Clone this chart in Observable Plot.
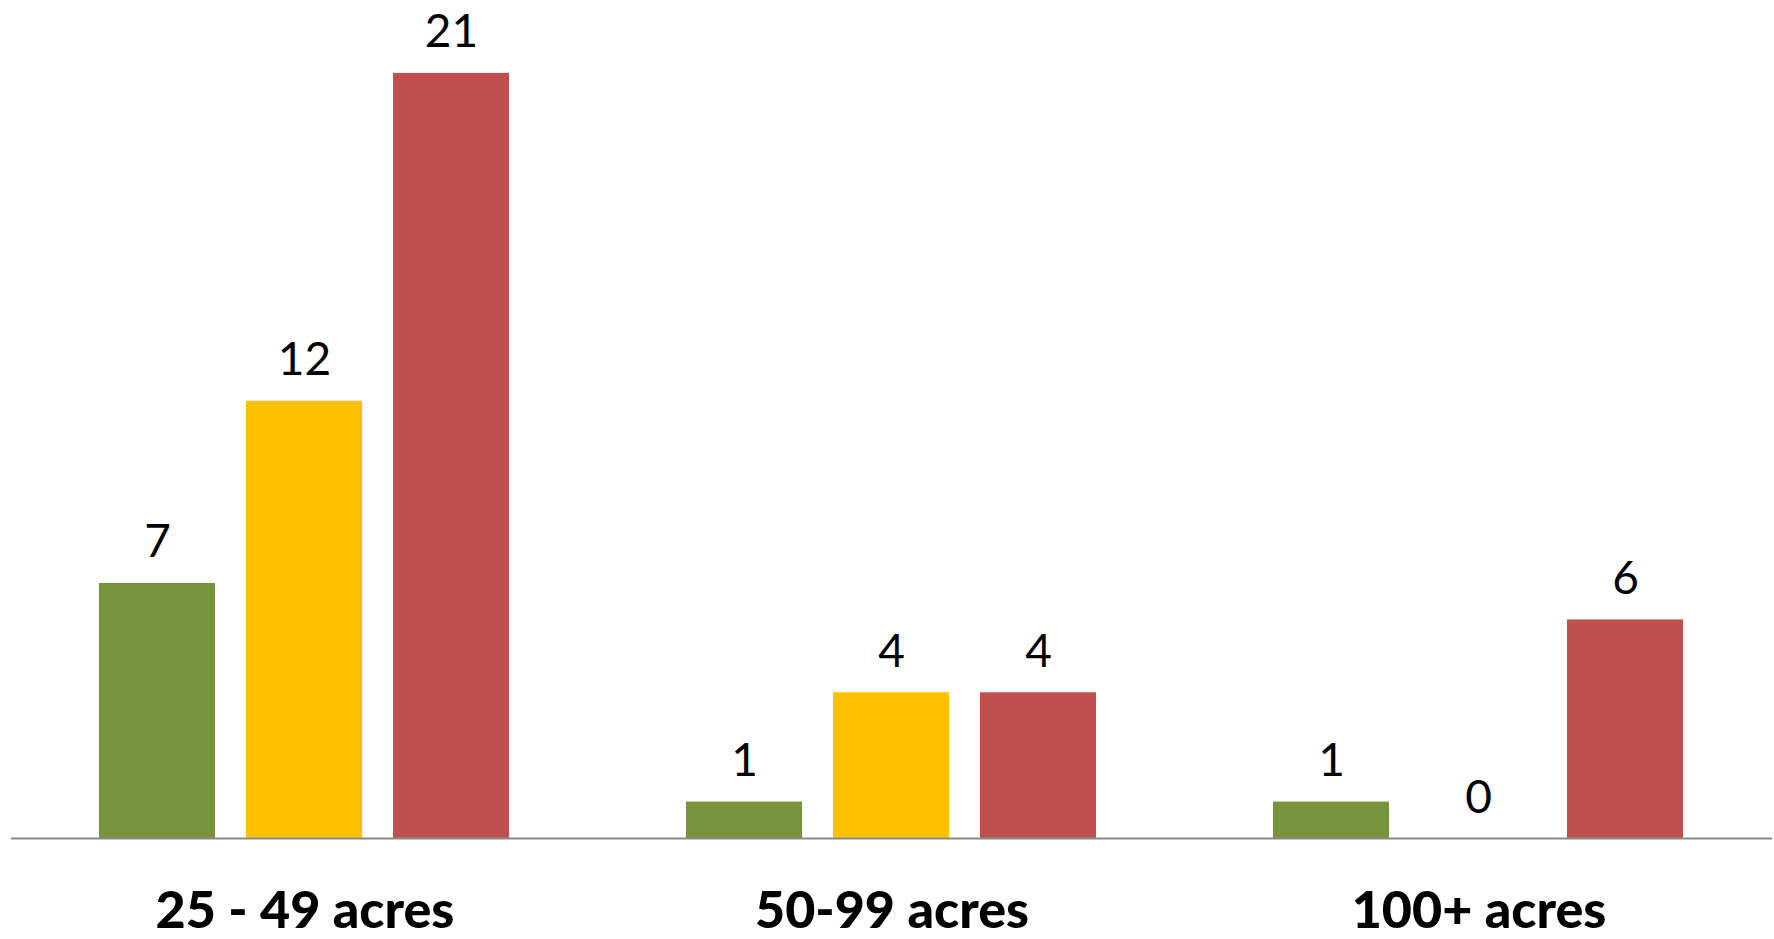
<!DOCTYPE html>
<html>
<head>
<meta charset="utf-8">
<script src="https://cdn.jsdelivr.net/npm/d3@7"></script>
<script src="https://cdn.jsdelivr.net/npm/@observablehq/plot@0.6"></script>
<style>
  html, body { margin: 0; padding: 0; background: #fff; }
  #chart svg { display: block; font-family: Lato, "Open Sans", sans-serif; }
  #chart g[aria-label="fx-axis tick label"] text { font-weight: 900; }
</style>
</head>
<body>
<div id="chart"></div>
<script>
const categories = ["25 - 49 acres", "50-99 acres", "100+ acres"];
const seriesNames = ["Series 1", "Series 2", "Series 3"];
const series1 = [7, 1, 1];
const series2 = [12, 4, 0];
const series3 = [21, 4, 6];
const seriesColors = ["#77933C", "#FFC000", "#C0504D"];

const seriesValues = [series1, series2, series3];
const rows = [];
categories.forEach((c, i) => {
  seriesNames.forEach((s, j) => {
    rows.push({category: c, series: s, value: seriesValues[j][i]});
  });
});

const chart = Plot.plot({
  width: 1774,
  height: 939,
  marginTop: 0,
  marginBottom: 101,
  marginLeft: 10,
  marginRight: 2,
  style: {fontFamily: "Lato, 'Open Sans', sans-serif", background: "#fff"},
  fx: {domain: categories, padding: 0, axis: null, label: null},
  x: {domain: seriesNames, paddingInner: 0.2075, paddingOuter: 0.6, axis: null},
  y: {domain: [0, 23], axis: null},
  color: {domain: seriesNames, range: seriesColors},
  marks: [
    Plot.barY(rows, {fx: "category", x: "series", y: "value", fill: "series"}),
    Plot.ruleY([0], {stroke: "#898989", strokeWidth: 2}),
    Plot.text(rows, {fx: "category", x: "series", y: "value", text: d => String(d.value),
      lineAnchor: "bottom", dy: -26, fontSize: 46, fill: "#000"}),
    Plot.axisFx({domain: categories, anchor: "bottom", tickSize: 0, tickPadding: 53, label: null,
      fontSize: 52, fontWeight: 900, fill: "#000"})
  ]
});
document.getElementById("chart").appendChild(chart);
</script>
</body>
</html>
